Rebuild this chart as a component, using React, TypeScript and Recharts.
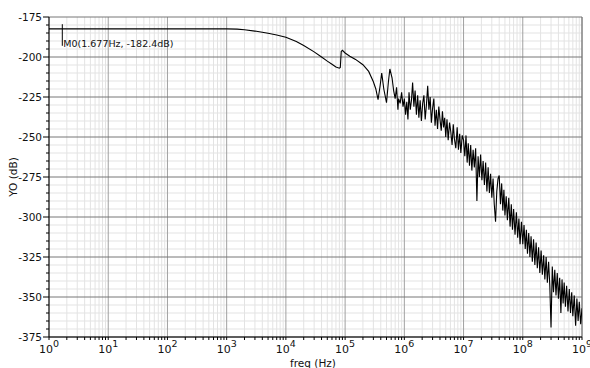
import { LineChart, Line, XAxis, YAxis, CartesianGrid, ReferenceLine } from "recharts";

// frequency sweep (Hz) and output level (dB)
const freqHz = [
  1, 1.677, 10, 100, 1000, 1500, 2000, 3000, 5000, 7000,
  1e4, 1.5e4, 2e4, 3e4, 4e4, 5e4, 6e4, 7e4, 8e4, 8.3e4,
  8.6e4, 9e4, 1e5, 1.2e5, 1.5e5, 2e5, 2.5e5, 3e5, 3.3e5, 3.6e5,
  3.9e5, 4.15e5, 4.5e5, 5e5, 5.4e5, 5.7e5, 6.2e5, 6.6e5, 7e5, 7.4e5,
  7.8e5, 8e5, 8.5e5, 9e5, 9.5e5,
  // 1e6 .. 1e7
  1e6, 1.05e6, 1.1e6, 1.15e6, 1.2e6, 1.26e6, 1.32e6, 1.38e6, 1.45e6, 1.52e6,
  1.6e6, 1.68e6, 1.76e6, 1.85e6, 1.94e6, 2.04e6, 2.14e6, 2.25e6, 2.36e6, 2.48e6,
  2.6e6, 2.73e6, 2.86e6, 3e6, 3.15e6, 3.3e6, 3.47e6, 3.64e6, 3.82e6, 4e6,
  4.2e6, 4.4e6, 4.6e6, 4.8e6, 5e6, 5.25e6, 5.5e6, 5.8e6, 6.1e6, 6.4e6,
  6.7e6, 7e6, 7.4e6, 7.8e6, 8.2e6, 8.6e6, 9e6, 9.5e6,
  // 1e7 .. 1e8
  1e7, 1.05e7, 1.1e7, 1.15e7, 1.2e7, 1.26e7, 1.32e7, 1.38e7, 1.45e7, 1.52e7,
  1.6e7, 1.68e7, 1.76e7, 1.85e7, 1.94e7, 2.04e7, 2.14e7, 2.25e7, 2.36e7, 2.48e7,
  2.6e7, 2.73e7, 2.86e7, 3e7, 3.15e7, 3.3e7, 3.47e7, 3.64e7, 3.82e7, 4e7,
  4.2e7, 4.4e7, 4.6e7, 4.8e7, 5e7, 5.25e7, 5.5e7, 5.8e7, 6.1e7, 6.4e7,
  6.7e7, 7e7, 7.4e7, 7.8e7, 8.2e7, 8.6e7, 9e7, 9.5e7,
  // 1e8 .. 1e9
  1e8, 1.05e8, 1.1e8, 1.15e8, 1.2e8, 1.26e8, 1.32e8, 1.38e8, 1.45e8, 1.52e8,
  1.6e8, 1.68e8, 1.76e8, 1.85e8, 1.94e8, 2.04e8, 2.14e8, 2.25e8, 2.36e8, 2.48e8,
  2.6e8, 2.73e8, 2.86e8, 3e8, 3.15e8, 3.3e8, 3.47e8, 3.64e8, 3.82e8, 4e8,
  4.2e8, 4.4e8, 4.6e8, 4.8e8, 5e8, 5.25e8, 5.5e8, 5.8e8, 6.1e8, 6.4e8,
  6.7e8, 7e8, 7.4e8, 7.8e8, 8.2e8, 8.6e8, 9e8, 9.5e8, 1e9,
];

const magDb = [
  -182.4, -182.4, -182.4, -182.4, -182.4, -182.6, -183.0, -183.8, -185.2, -186.3,
  -187.6, -190.3, -192.8, -196.8, -200.0, -202.6, -204.5, -206.2, -207.0, -206.5,
  -196.5, -195.8, -197.5, -199.5, -201.5, -204.8, -209.0, -215.5, -220, -226.7,
  -218, -210, -220, -228.5, -215, -207.5, -213, -221, -226, -219,
  -233, -226, -229, -222, -231,
  // 1e6 .. 1e7
  -226, -236, -228, -239, -222, -233, -227, -216, -231, -221,
  -236, -224, -238, -227, -240, -229, -224, -239, -230, -218,
  -233, -225, -241, -232, -226, -243, -233, -245, -231, -239,
  -246, -234, -244, -238, -250, -239, -252, -241, -247, -255,
  -242, -251, -257, -244, -258, -248, -260, -249,
  // 1e7 .. 1e8
  -252, -262, -249, -266, -254, -268, -255, -271, -258, -269,
  -257, -290, -262, -275, -261, -277, -265, -280, -266, -284,
  -269, -285, -273, -288, -276, -292, -303, -284, -276, -274,
  -292, -279, -296, -283, -299, -287, -302, -288, -306, -292,
  -308, -295, -311, -297, -313, -301, -317, -303,
  // 1e8 .. 1e9
  -317, -305, -320, -308, -323, -310, -325, -312, -328, -314,
  -330, -316, -332, -319, -335, -321, -336, -324, -339, -325,
  -341, -328, -343, -369, -331, -347, -333, -349, -335, -351,
  -338, -360, -339, -354, -341, -356, -343, -359, -345, -360,
  -347, -362, -349, -368, -351, -365, -353, -367, -357,
];

const xDecades = [1, 10, 100, 1e3, 1e4, 1e5, 1e6, 1e7, 1e8, 1e9];
const xMinorSteps = [2, 3, 4, 5, 6, 7, 8, 9];
const yMajor = [-375, -350, -325, -300, -275, -250, -225, -200, -175];
const markerFreq = 1.677;
const markerText = "M0(1.677Hz, -182.4dB)";

const data = freqHz.map((f, i) => ({ f, db: magDb[i] }));

const xMinor = xDecades.slice(0, -1).flatMap((d) => xMinorSteps.map((m) => d * m));
const xTicks = [...xDecades, ...xMinor].sort((a, b) => a - b);
const yMinor: number[] = [];
for (let v = -370; v < -175; v += 5) if (v % 25 !== 0) yMinor.push(v);
const yTicks = [...yMajor, ...yMinor].sort((a, b) => a - b);

function XTick(props: any) {
  const { x, y, payload } = props;
  const lg = Math.log10(payload.value);
  const exp = Math.round(lg);
  const major = Math.abs(lg - exp) < 1e-6;
  return (
    <g>
      <line x1={x} x2={x} y1={y} y2={y + 3} stroke="#000" />
      {major && (
        <text x={x} y={y + 16} textAnchor="middle" fontSize={11} fill="#111">
          10
          <tspan dy={-6} fontSize={9.5}>{exp}</tspan>
        </text>
      )}
    </g>
  );
}

function YTick(props: any) {
  const { x, y, payload } = props;
  const major = payload.value % 25 === 0;
  return (
    <g>
      <line x1={x - (major ? 6 : 3)} x2={x} y1={y} y2={y} stroke="#000" />
      {major && (
        <text x={x - 7} y={y + 4} textAnchor="end" fontSize={10.5} fill="#111">
          {payload.value}
        </text>
      )}
    </g>
  );
}

export default function App() {
  return (
    <div style={{ position: "absolute", left: 0, top: 0, fontFamily: "'DejaVu Sans', sans-serif" }}>
      <LineChart width={590} height={368} data={data} margin={{ top: 17, right: 8, bottom: 0, left: 0 }}>
        <CartesianGrid stroke="#e3e3e3" verticalValues={xMinor} horizontalValues={yMinor} />
        <CartesianGrid stroke="#a0a0a0" verticalValues={xDecades} horizontal={false} />
        <CartesianGrid stroke="#777" horizontalValues={yMajor} vertical={false} />
        <XAxis
          dataKey="f"
          type="number"
          scale="log"
          domain={[1, 1e9]}
          ticks={xTicks}
          interval={0}
          tickSize={0}
          tickMargin={0}
          tick={XTick}
          height={31}
          stroke="#000"
          allowDataOverflow
          label={() => (
            <text x={313} y={367} textAnchor="middle" fontSize={10.5} fill="#111">
              freq (Hz)
            </text>
          )}
        />
        <YAxis
          type="number"
          domain={[-375, -175]}
          ticks={yTicks}
          interval={0}
          tickSize={0}
          tickMargin={0}
          tick={YTick}
          width={49}
          stroke="#000"
          allowDataOverflow
          label={() => (
            <text x={17} y={177} transform="rotate(-90 17 177)" textAnchor="middle" fontSize={10.5} fill="#111">
              YO (dB)
            </text>
          )}
        />
        <ReferenceLine x={1e9} stroke="#707070" />
        <ReferenceLine
          segment={[
            { x: markerFreq, y: -179.5 },
            { x: markerFreq, y: -193 },
          ]}
          stroke="#000"
          label={(p: any) => {
            const vb = p.viewBox || {};
            return (
              <text x={(vb.x ?? 62) + 1} y={(vb.y ?? 25) + (vb.height ?? 21) + 1} fontSize={9.5} fill="#111">
                {markerText}
              </text>
            );
          }}
        />
        <Line type="linear" dataKey="db" stroke="#000" strokeWidth={1.1} dot={false} isAnimationActive={false} />
      </LineChart>
    </div>
  );
}
